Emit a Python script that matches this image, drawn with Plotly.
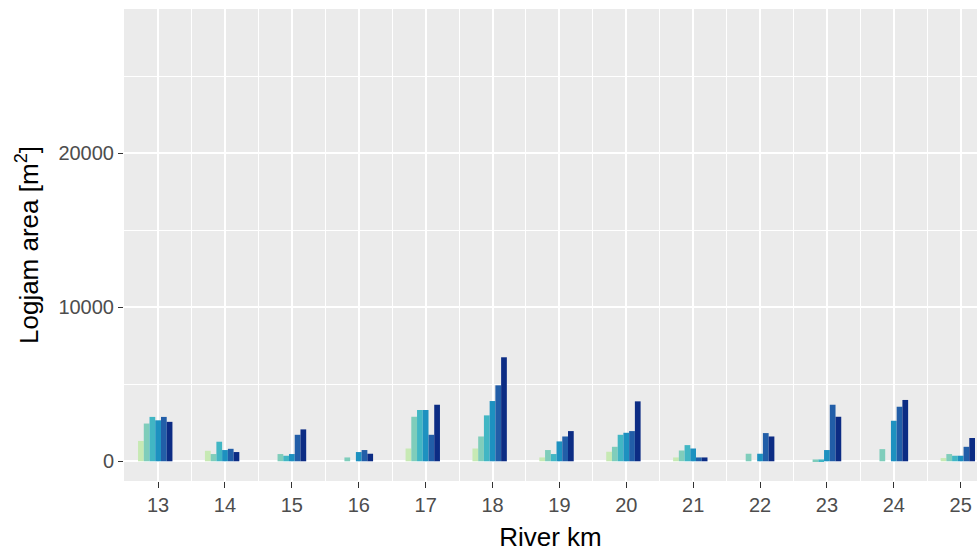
import plotly.graph_objects as go

river_km = [13, 14, 15, 16, 17, 18, 19, 20, 21, 22, 23, 24, 25]
series_names = ["Survey 1", "Survey 2", "Survey 3", "Survey 4", "Survey 5", "Survey 6"]
colors = ["#c7e9b4", "#7fcdbb", "#41b6c4", "#1d91c0", "#225ea8", "#0c2c84"]

s1 = [1320, 680, 0, 0, 830, 830, 250, 620, 250, 0, 0, 0, 210]
s2 = [2450, 470, 470, 250, 2890, 1610, 730, 940, 700, 490, 120, 790, 470]
s3 = [2880, 1270, 360, 0, 3330, 2980, 470, 1720, 1050, 0, 120, 0, 360]
s4 = [2660, 730, 470, 600, 3330, 3910, 1290, 1850, 830, 490, 730, 2630, 360]
s5 = [2880, 810, 1720, 730, 1720, 4930, 1610, 1960, 250, 1830, 3670, 3540, 940]
s6 = [2560, 600, 2070, 490, 3670, 6750, 1960, 3890, 250, 1610, 2890, 3980, 1510]
series = [s1, s2, s3, s4, s5, s6]

y_ticks = [0, 10000, 20000]
y_tick_labels = ["0", "10000", "20000"]

group_width = 0.6
n_slots = 7
bar_w = group_width / n_slots

fig = go.Figure()
for i, (name, vals, col) in enumerate(zip(series_names, series, colors)):
    fig.add_trace(go.Bar(
        x=river_km, y=vals, name=name,
        marker=dict(color=col, line=dict(width=0)),
        width=bar_w, offset=-group_width / 2 + i * bar_w,
    ))

font_family = "Liberation Sans, Arial, sans-serif"
fig.update_layout(
    width=977, height=554,
    barmode="overlay",
    showlegend=False,
    paper_bgcolor="white",
    plot_bgcolor="#EBEBEB",
    margin=dict(l=124, r=0, t=9, b=73, pad=0),
    font=dict(family=font_family, color="#4D4D4D", size=20),
)
fig.update_xaxes(
    range=[12.49, 25.244],
    tickvals=river_km, ticktext=[str(k) for k in river_km],
    showgrid=True, gridcolor="white", gridwidth=2,
    minor=dict(dtick=1, tick0=12.5, showgrid=True, gridcolor="white", gridwidth=1, ticks=""),
    zeroline=False, showline=False,
    ticks="outside", ticklen=6, tickwidth=1.2, tickcolor="#333333",
    tickfont=dict(size=20, color="#4D4D4D"),
    title=dict(text="River km", font=dict(size=26, color="black"), standoff=12),
)
fig.update_yaxes(
    range=[-1279, 29351],
    tickvals=y_ticks, ticktext=y_tick_labels,
    showgrid=True, gridcolor="white", gridwidth=2,
    minor=dict(dtick=5000, tick0=5000, showgrid=True, gridcolor="white", gridwidth=1, ticks=""),
    zeroline=False, showline=False,
    ticks="outside", ticklen=5, tickwidth=1.2, tickcolor="#333333",
    tickfont=dict(size=20, color="#4D4D4D"),
    title=dict(text="Logjam area [m<sup>2</sup>]", font=dict(size=26, color="black"), standoff=12),
)

fig.write_html("out.html")
